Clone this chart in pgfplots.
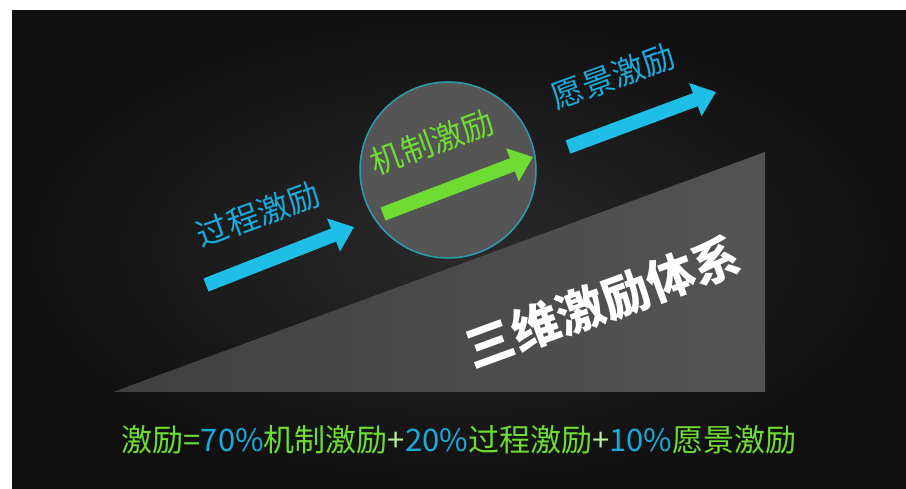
\documentclass[border=0pt]{standalone}
\usepackage{fontspec}
\usepackage{pgfplots}
\pgfplotsset{compat=1.18}
\usetikzlibrary{arrows.meta}
\setmainfont{Noto Sans CJK SC}
\definecolor{grn}{HTML}{6EDC32}
\definecolor{blu}{HTML}{1AABDC}
\definecolor{arblu}{HTML}{1EBEE6}
\definecolor{bgin}{HTML}{2A2A2A}
\definecolor{bgout}{HTML}{101010}
\definecolor{triL}{HTML}{404040}
\definecolor{triR}{HTML}{545454}
\definecolor{circ}{HTML}{555555}
\definecolor{ring}{HTML}{2A9DB0}
\begin{document}
\begin{tikzpicture}
\begin{axis}[set layers,width=906pt,height=488pt,scale only axis,
  xmin=0,xmax=906,ymin=0,ymax=488,y dir=reverse,
  hide axis,clip=false]
% page background
\addplot[on layer=axis background,draw=none,fill=white] coordinates {(0,0)(906,0)(906,488)(0,488)} -- cycle;
% dark panel
\addplot[on layer=axis background,draw=none,inner color=bgin,outer color=bgout] coordinates {(12,11)(906,11)(906,488)(12,488)} -- cycle;
% ramp
\addplot[on layer=axis background,draw=none,left color=triL,right color=triR] coordinates {(113,392)(765,392)(765,152)} -- cycle;
% circle
\addplot[only marks,mark=*,mark size=88pt,mark options={fill=circ,draw=ring,line width=1.5pt}] coordinates {(448,170)};
% arrows
\addplot[on layer=axis foreground,arblu,line width=14pt,-{Triangle[width=34pt,length=22pt]}] coordinates {(206,285)(354,227)};
\addplot[on layer=axis foreground,grn,line width=14pt,-{Triangle[width=34pt,length=22pt]}] coordinates {(383,214)(533,157)};
\addplot[on layer=axis foreground,arblu,line width=14pt,-{Triangle[width=34pt,length=22pt]}] coordinates {(568,147)(716,92)};
% labels
\begin{pgfonlayer}{axis foreground}
\node[rotate=20,text=blu,font=\fontsize{32}{32}\selectfont] at (axis cs:258,214) {过程激励};
\node[rotate=20,text=grn,font=\fontsize{32}{32}\selectfont] at (axis cs:432,142) {机制激励};
\node[rotate=20,text=blu,font=\fontsize{32}{32}\selectfont] at (axis cs:613,76) {愿景激励};
\node[rotate=20,text=white,font=\fontsize{48}{48}\selectfont\bfseries] at (axis cs:603,302) {三维激励体系};
\node[font=\fontsize{31}{31}\selectfont] at (axis cs:459,440) {\textcolor{grn}{激励=}\textcolor{blu}{70\%}\textcolor{grn}{机制激励}\textcolor{grn!50!white}{+}\textcolor{blu}{20\%}\textcolor{grn}{过程激励}\textcolor{grn!50!white}{+}\textcolor{blu}{10\%}\textcolor{grn}{愿景激励}};
\end{pgfonlayer}
\end{axis}
\end{tikzpicture}
\end{document}
